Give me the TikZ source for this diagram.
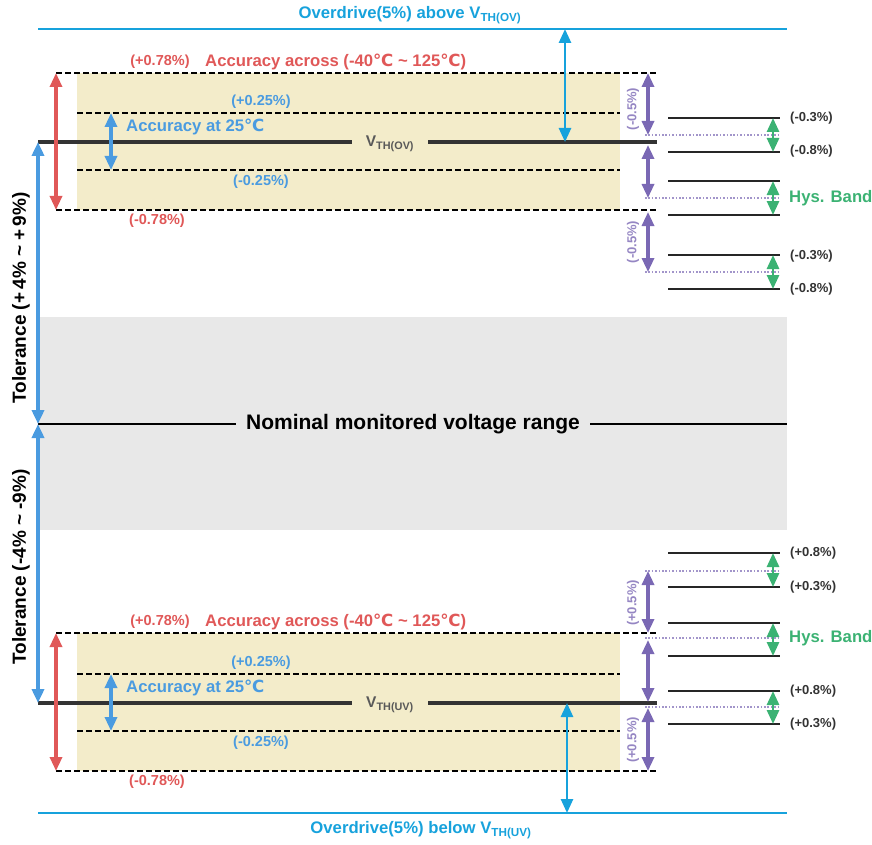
\documentclass[tikz,border=0pt]{standalone}
\usepackage{fontspec}
\setmainfont{Liberation Sans}
\newfontfamily\degfont{DejaVu Sans}
\usetikzlibrary{arrows.meta,positioning,calc}
\definecolor{cover}{HTML}{17A2DC}
\definecolor{cacc}{HTML}{E05858}
\definecolor{croom}{HTML}{4A9BE0}
\definecolor{chys}{HTML}{3BB273}
\definecolor{cstep}{HTML}{7A68B4}
\definecolor{cband}{HTML}{F3ECCA}
\definecolor{cnom}{HTML}{E8E8E8}
\newcommand{\degc}{{\degfont\bfseries ℃}}
\newcommand{\fs}[1]{\fontsize{#1}{#1}\selectfont}

\begin{document}
\begin{tikzpicture}[x=1pt,y=-1pt,
    dsh/.style={line width=1.8pt,dash pattern=on 6pt off 3pt},
    thr/.style={line width=3.5pt,black!80},
    lvl/.style={line width=2pt,black!85},
    dotl/.style={cstep!70,line width=1.8pt,dash pattern=on 1.6pt off 1.8pt},
    darr/.style={{Triangle[width=12pt,length=14pt]}-{Triangle[width=12pt,length=14pt]},line width=3.2pt},
    lbl/.style={font=\bfseries\fs{14.5},inner sep=0pt},
    big/.style={font=\bfseries\fs{16.7},inner sep=0pt},
    pct/.style={font=\bfseries\fs{13},inner sep=0pt,anchor=west,black!80},
    stp/.style={font=\bfseries\fs{13},inner sep=0pt,text=cstep!80,rotate=90},
    vth/.style={font=\bfseries\fs{15.5},inner sep=0pt,inner xsep=14pt,black!65}]
  \useasboundingbox (0,0) rectangle (872,845);

  % nominal band
  \fill[cnom] (38,317) rectangle (787,530);
  \coordinate (nomL) at (38,424);
  \coordinate (nomR) at (787,424);
  \node[font=\bfseries\fs{21},inner sep=0pt,inner xsep=10pt] (nom) at (413,424) {Nominal monitored voltage range};
  \draw[line width=1.8pt] (nomL) -- (nom.west); \draw[line width=1.8pt] (nom.east) -- (nomR);

  %%% over-voltage side
  \coordinate (odL) at (38,29); \coordinate (odR) at (787,29);
  \draw[cover,line width=2.4pt] (odL) -- (odR);
  \node[big,text=cover] (odtxt) at (410,15) {Overdrive(5\%) above V\textsubscript{TH(OV)}};

  \fill[cband] (77,73) rectangle (620,210);
  \coordinate (oa1L) at (56,73);  \coordinate (oa1R) at (657,73);
  \coordinate (or1L) at (77,113); \coordinate (or1R) at (620,113);
  \coordinate (or2L) at (77,170); \coordinate (or2R) at (620,170);
  \coordinate (oa2L) at (56,210); \coordinate (oa2R) at (657,210);
  \draw[dsh] (oa1L) -- (oa1R); \draw[dsh] (or1L) -- (or1R);
  \draw[dsh] (or2L) -- (or2R); \draw[dsh] (oa2L) -- (oa2R);

  \coordinate (ovL) at (38,142); \coordinate (ovR) at (657,142);
  \node[vth] (ov) at (390,144) {V\textsubscript{TH(OV)}};
  \draw[thr] (ovL) -- (ov.west |- ovL); \draw[thr] (ov.east |- ovR) -- (ovR);

  \draw[darr,cacc] (oa1L) -- (oa2L);
  \coordinate (orT) at (111,113); \coordinate (orB) at (111,170);
  \draw[darr,croom] (orT) -- (orB);
  \coordinate (odT) at (565,29); \coordinate (odB) at (565,142);
  \draw[darr,cover,line width=2.6pt] (odT) -- (odB);

  \node[lbl,text=cacc] (oa1t) at (160,62) {(+0.78\%)};
  \node[big,text=cacc,anchor=west] (oacc) at (205,62) {Accuracy across (-40\degc\ \textasciitilde\ 125\degc)};
  \node[lbl,text=croom] (or1t) at (261,102) {(+0.25\%)};
  \node[big,text=croom,anchor=west] (oroom) at (126,127) {Accuracy at 25\degc};
  \node[lbl,text=croom] (or2t) at (261,182) {(-0.25\%)};
  \node[lbl,text=cacc] (oa2t) at (157,221) {(-0.78\%)};

  % hysteresis levels
  \foreach \y/\n in {118/1,152/2,181/3,215/4,255/5,289/6}{
    \coordinate (ol\n L) at (668,\y); \coordinate (ol\n R) at (780,\y);
    \draw[lvl] (ol\n L) -- (ol\n R);
  }
  \foreach \y/\n in {135/1,198/2,272/3}{
    \coordinate (od\n L) at (645,\y); \coordinate (od\n R) at (780,\y);
    \draw[dotl] (od\n L) -- (od\n R);
  }
  \foreach \a/\b in {1/2,3/4,5/6}
    \draw[darr,chys,line width=2.8pt] ($(ol\a R)+(-7,0)$) -- ($(ol\b R)+(-7,0)$);
  \coordinate (os1T) at (648,73);  \coordinate (os1B) at (648,135);
  \coordinate (os2T) at (648,145); \coordinate (os2B) at (648,198);
  \coordinate (os3T) at (648,212); \coordinate (os3B) at (648,272);
  \draw[darr,cstep] (os1T) -- (os1B);
  \draw[darr,cstep] (os2T) -- (os2B);
  \draw[darr,cstep] (os3T) -- (os3B);
  \node[stp] (os1t) at (633,109) {(-0.5\%)};
  \node[stp] (os3t) at (633,242) {(-0.5\%)};

  \node[pct] at (790,118) {(-0.3\%)};
  \node[pct] at (790,151) {(-0.8\%)};
  \node[big,text=chys,anchor=west] (ohys) at (789,198) {Hys. Band};
  \node[pct] at (790,256) {(-0.3\%)};
  \node[pct] at (790,289) {(-0.8\%)};

  %%% under-voltage side
  \coordinate (udL) at (38,813); \coordinate (udR) at (787,813);
  \draw[cover,line width=2.4pt] (udL) -- (udR);
  \node[big,text=cover] (udtxt) at (421,830) {Overdrive(5\%) below V\textsubscript{TH(UV)}};

  \fill[cband] (77,633) rectangle (620,771);
  \coordinate (ua1L) at (56,633);  \coordinate (ua1R) at (657,633);
  \coordinate (ur1L) at (77,674); \coordinate (ur1R) at (620,674);
  \coordinate (ur2L) at (77,731); \coordinate (ur2R) at (620,731);
  \coordinate (ua2L) at (56,771); \coordinate (ua2R) at (657,771);
  \draw[dsh] (ua1L) -- (ua1R); \draw[dsh] (ur1L) -- (ur1R);
  \draw[dsh] (ur2L) -- (ur2R); \draw[dsh] (ua2L) -- (ua2R);

  \coordinate (uvL) at (38,703); \coordinate (uvR) at (657,703);
  \node[vth] (uv) at (390,705) {V\textsubscript{TH(UV)}};
  \draw[thr] (uvL) -- (uv.west |- uvL); \draw[thr] (uv.east |- uvR) -- (uvR);

  \draw[darr,cacc] (ua1L) -- (ua2L);
  \coordinate (urT) at (111,674); \coordinate (urB) at (111,731);
  \draw[darr,croom] (urT) -- (urB);
  \coordinate (udT) at (567,703); \coordinate (udB) at (567,813);
  \draw[darr,cover,line width=2.6pt] (udT) -- (udB);

  \node[lbl,text=cacc] (ua1t) at (160,622) {(+0.78\%)};
  \node[big,text=cacc,anchor=west] (uacc) at (205,622) {Accuracy across (-40\degc\ \textasciitilde\ 125\degc)};
  \node[lbl,text=croom] (ur1t) at (261,663) {(+0.25\%)};
  \node[big,text=croom,anchor=west] (uroom) at (126,688) {Accuracy at 25\degc};
  \node[lbl,text=croom] (ur2t) at (261,743) {(-0.25\%)};
  \node[lbl,text=cacc] (ua2t) at (157,782) {(-0.78\%)};

  \foreach \y/\n in {553/1,587/2,623/3,656/4,691/5,724/6}{
    \coordinate (ul\n L) at (668,\y); \coordinate (ul\n R) at (780,\y);
    \draw[lvl] (ul\n L) -- (ul\n R);
  }
  \foreach \y/\n in {571/1,638/2,707/3}{
    \coordinate (ud\n L) at (645,\y); \coordinate (ud\n R) at (780,\y);
    \draw[dotl] (ud\n L) -- (ud\n R);
  }
  \foreach \a/\b in {1/2,3/4,5/6}
    \draw[darr,chys,line width=2.8pt] ($(ul\a R)+(-7,0)$) -- ($(ul\b R)+(-7,0)$);
  \coordinate (us1T) at (648,571); \coordinate (us1B) at (648,633);
  \coordinate (us2T) at (648,640); \coordinate (us2B) at (648,702);
  \coordinate (us3T) at (648,708); \coordinate (us3B) at (648,771);
  \draw[darr,cstep] (us1T) -- (us1B);
  \draw[darr,cstep] (us2T) -- (us2B);
  \draw[darr,cstep] (us3T) -- (us3B);
  \node[stp] (us1t) at (633,603) {(+0.5\%)};
  \node[stp] (us3t) at (633,740) {(+0.5\%)};

  \node[pct] at (790,553) {(+0.8\%)};
  \node[pct] at (790,587) {(+0.3\%)};
  \node[big,text=chys,anchor=west] (uhys) at (789,638) {Hys. Band};
  \node[pct] at (790,691) {(+0.8\%)};
  \node[pct] at (790,724) {(+0.3\%)};

  %%% tolerance
  \draw[darr,croom,line width=4pt] (ovL) -- (nomL);
  \draw[darr,croom,line width=4pt] (nomL) -- (uvL);
  \node[font=\bfseries\fs{19},inner sep=0pt,rotate=90] (tolo) at (21,298) {Tolerance (+\,4\% \textasciitilde\ +\,9\%)};
  \node[font=\bfseries\fs{19},inner sep=0pt,rotate=90] (tolu) at (21,567) {Tolerance (-4\% \textasciitilde\ -9\%)};
\end{tikzpicture}
\end{document}
